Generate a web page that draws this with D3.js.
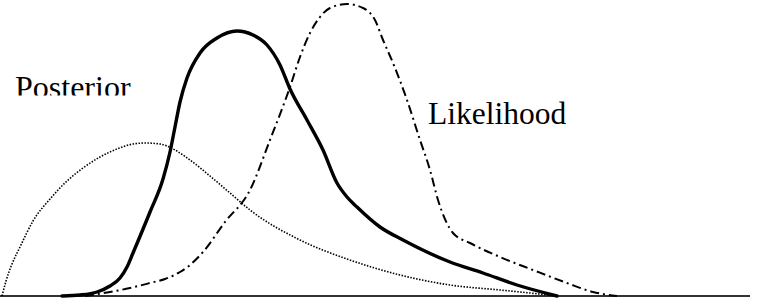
<!DOCTYPE html>
<html>
<head>
<meta charset="utf-8">
<script src="https://cdn.jsdelivr.net/npm/d3@7"></script>
<style>
  html, body { margin: 0; padding: 0; background: #fff; }
  svg { display: block; }
</style>
</head>
<body>
<div id="chart"></div>
<script>
// prior (dotted)
const priorTheta = [0.02, 0.06, 0.12, 0.20, 0.33, 0.50, 0.67, 0.83, 1.00, 1.17, 1.33, 1.45, 1.60,
    1.75, 1.90, 2.10, 2.30, 2.50, 3.00, 3.50, 4.00, 4.50, 5.00, 5.30, 5.57]
const priorDens = [0, 0.15, 0.32, 0.49, 0.75, 0.97, 1.15, 1.28, 1.39, 1.47, 1.52, 1.53, 1.52,
    1.46, 1.36, 1.20, 1.03, 0.86, 0.56, 0.36, 0.21, 0.11, 0.06, 0.03, 0]

// posterior (thick solid)
const postTheta = [0.62, 0.80, 0.97, 1.10, 1.20, 1.27, 1.33, 1.50, 1.63, 1.70, 1.75, 1.80, 1.87,
    2.00, 2.17, 2.37, 2.53, 2.67, 2.80, 2.90, 3.07, 3.23, 3.37, 3.47, 3.57, 3.80, 4.03, 4.50,
    4.83, 5.17, 5.57]
const postDens = [0, 0.01, 0.04, 0.10, 0.18, 0.29, 0.43, 0.84, 1.17, 1.44, 1.69, 1.94, 2.18,
    2.43, 2.58, 2.65, 2.61, 2.51, 2.31, 2.07, 1.76, 1.46, 1.13, 0.99, 0.89, 0.69, 0.56, 0.34,
    0.23, 0.11, 0]

// likelihood (dash-dot)
const likTheta = [0.85, 1.10, 1.30, 1.50, 1.65, 1.80, 1.90, 2.03, 2.25, 2.50, 2.70, 2.90, 3.00,
    3.10, 3.20, 3.30, 3.47, 3.63, 3.75, 3.83, 3.93, 4.07, 4.20, 4.30, 4.38, 4.53, 4.70, 5.00,
    5.33, 5.67, 5.93, 6.17]
const likDens = [0, 0.04, 0.08, 0.13, 0.17, 0.24, 0.31, 0.44, 0.74, 1.06, 1.56, 2.09, 2.39,
    2.63, 2.79, 2.88, 2.92, 2.88, 2.76, 2.56, 2.33, 1.96, 1.56, 1.26, 0.96, 0.63, 0.53, 0.39,
    0.26, 0.13, 0.04, 0]

const labels = ['Posterior', 'Likelihood']

const width = 762, height = 299

const x = d3.scaleLinear().domain([0, 7.62]).range([0, width])
const y = d3.scaleLinear().domain([0, 2.96]).range([296, 0])

const svg = d3.select('#chart').append('svg')
    .attr('width', width)
    .attr('height', height)

// clip for the cut-off "Posterior" label
svg.append('defs').append('clipPath')
    .attr('id', 'topclip')
    .append('rect')
    .attr('x', 0).attr('y', 0)
    .attr('width', width).attr('height', 95.5)

const line = d3.line()
    .x(d => x(d[0]))
    .y(d => y(d[1]))
    .curve(d3.curveMonotoneX)

const series = [
    {theta: priorTheta, dens: priorDens, width: 1.6, dash: '1.5,1.5', cap: 'butt'},
    {theta: likTheta, dens: likDens, width: 2, dash: '9,4,2,4', cap: 'butt'},
    {theta: postTheta, dens: postDens, width: 3.4, dash: null, cap: 'round'}
]

// baseline
svg.append('line')
    .attr('x1', x(0)).attr('x2', x(7.5))
    .attr('y1', y(0)).attr('y2', y(0))
    .style('stroke', '#333')
    .style('stroke-width', 2.2)

svg.selectAll('path.curve')
    .data(series)
    .enter()
    .append('path')
    .attr('class', 'curve')
    .attr('d', s => line(d3.zip(s.theta, s.dens)))
    .style('fill', 'none')
    .style('stroke', '#000')
    .style('stroke-width', s => s.width)
    .style('stroke-dasharray', s => s.dash)
    .style('stroke-linecap', s => s.cap)
    .style('stroke-linejoin', 'round')

svg.append('text')
    .attr('x', 15)
    .attr('y', 98)
    .attr('clip-path', 'url(#topclip)')
    .style('font-family', '"Liberation Serif", "Times New Roman", serif')
    .style('font-size', '32px')
    .style('fill', '#000')
    .text(labels[0])

svg.append('text')
    .attr('x', 428)
    .attr('y', 124)
    .style('font-family', '"Liberation Serif", "Times New Roman", serif')
    .style('font-size', '31.5px')
    .style('fill', '#000')
    .text(labels[1])
</script>
</body>
</html>
